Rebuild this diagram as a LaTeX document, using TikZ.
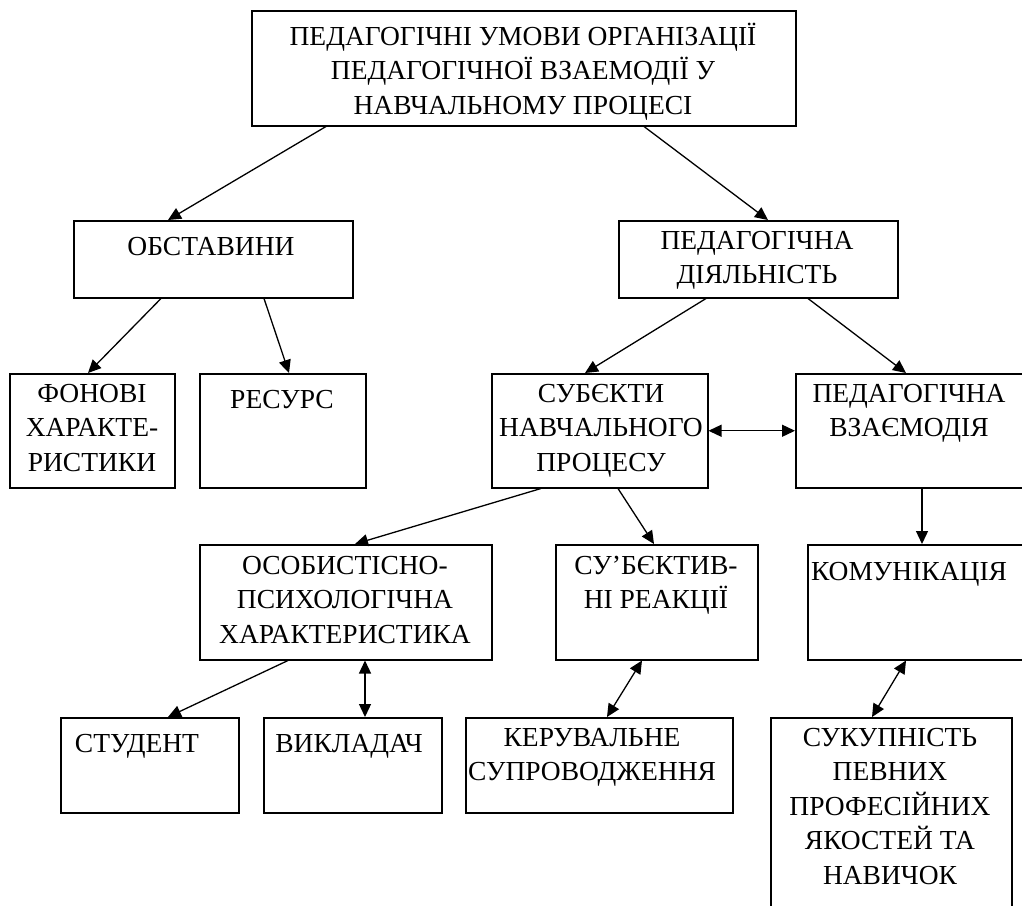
\documentclass[tikz,border=0pt]{standalone}
\usepackage{fontspec}
\setmainfont{Liberation Serif}
\usetikzlibrary{arrows.meta}

\begin{document}
\begin{tikzpicture}[x=1pt, y=-1pt, >={Triangle[length=13pt,width=12pt]},
    box/.style={draw, line width=1.5pt, rectangle, anchor=north west, inner sep=0pt},
    txt/.style={anchor=north, align=center, inner sep=0pt, font=\fontsize{27.5pt}{34.5pt}\selectfont, execute at begin node=\strut},
    every edge/.style={draw, line width=1.3pt}]

    \useasboundingbox (0,0) rectangle (1022,905);

    % Define the boxes (nodes)
    \node[box, minimum width=544pt, minimum height=115pt] (top) at (251,10) {}; % main box
    \node[box, minimum width=279pt, minimum height=77pt] (obst) at (73,220) {};
    \node[box, minimum width=279pt, minimum height=77pt] (dial) at (618,220) {};
    \node[box, minimum width=165pt, minimum height=114pt] (fon) at (9,373) {};
    \node[box, minimum width=166pt, minimum height=114pt] (res) at (199,373) {};
    \node[box, minimum width=216pt, minimum height=114pt] (subj) at (491,373) {};
    \node[box, minimum width=231pt, minimum height=114pt] (vz) at (795,373) {}; % cut by the right edge
    \node[box, minimum width=292pt, minimum height=115pt] (osob) at (199,544) {};
    \node[box, minimum width=202pt, minimum height=115pt] (reak) at (555,544) {};
    \node[box, minimum width=219pt, minimum height=115pt] (kom) at (807,544) {}; % cut by the right edge
    \node[box, minimum width=178pt, minimum height=95pt] (stud) at (60,717) {};
    \node[box, minimum width=178pt, minimum height=95pt] (vykl) at (263,717) {};
    \node[box, minimum width=267pt, minimum height=95pt] (ker) at (465,717) {};
    \node[box, minimum width=241pt, minimum height=200pt] (suk) at (770,717) {}; % cut by the bottom edge

    % Texts of the boxes
    \node[txt] (top-t) at (523,22.5) {ПЕДАГОГІЧНІ УМОВИ ОРГАНІЗАЦІЇ\\ПЕДАГОГІЧНОЇ ВЗАЕМОДІЇ У\\НАВЧАЛЬНОМУ ПРОЦЕСІ};
    \node[txt] (obst-t) at (211,231) {ОБСТАВИНИ};
    \node[txt] (dial-t) at (757,231) {ПЕДАГОГІЧНА\\ДІЯЛЬНІСТЬ};
    \node[txt] (fon-t) at (92,384) {ФОНОВІ\\ХАРАКТЕ-\\РИСТИКИ};
    \node[txt] (res-t) at (282,384) {РЕСУРС};
    \node[txt] (subj-t) at (601,384) {СУБЄКТИ\\НАВЧАЛЬНОГО\\ПРОЦЕСУ};
    \node[txt] (vz-t) at (909,384) {ПЕДАГОГІЧНА\\ВЗАЄМОДІЯ};
    \node[txt] (osob-t) at (345,556) {ОСОБИСТІСНО-\\ПСИХОЛОГІЧНА\\ХАРАКТЕРИСТИКА};
    \node[txt] (reak-t) at (656,556) {СУ’БЄКТИВ-\\НІ РЕАКЦІЇ};
    \node[txt] (kom-t) at (909,556) {КОМУНІКАЦІЯ};
    \node[txt] (stud-t) at (137,728) {СТУДЕНТ};
    \node[txt] (vykl-t) at (349,728) {ВИКЛАДАЧ};
    \node[txt] (ker-t) at (592,728) {КЕРУВАЛЬНЕ\\СУПРОВОДЖЕННЯ};
    \node[txt] (suk-t) at (890,728) {СУКУПНІСТЬ\\ПЕВНИХ\\ПРОФЕСІЙНИХ\\ЯКОСТЕЙ ТА\\НАВИЧОК};

    % Define the connectors
    \path[->]
    ([xshift=75pt]top.south west) edge ([xshift=95pt]obst.north west)
    ([xshift=393pt]top.south west) edge ([xshift=150pt]dial.north west)
    ([xshift=88pt]obst.south west) edge ([xshift=79pt]fon.north west)
    ([xshift=191pt]obst.south west) edge ([xshift=90pt]res.north west)
    ([xshift=88pt]dial.south west) edge ([xshift=94pt]subj.north west)
    ([xshift=190pt]dial.south west) edge ([xshift=111pt]vz.north west)
    ([xshift=50pt]subj.south west) edge ([xshift=156pt]osob.north west)
    ([xshift=127pt]subj.south west) edge ([xshift=99pt]reak.north west)
    ([xshift=127pt]vz.south west) edge ([xshift=115pt]kom.north west)
    ([xshift=89pt]osob.south west) edge ([xshift=108pt]stud.north west);
    \path[<->]
    (subj.east) edge (vz.west |- subj.east)
    ([xshift=166pt]osob.south west) edge ([xshift=102pt]vykl.north west)
    ([xshift=87pt]reak.south west) edge ([xshift=142pt]ker.north west)
    ([xshift=99pt]kom.south west) edge ([xshift=102pt]suk.north west);
\end{tikzpicture}
\end{document}
